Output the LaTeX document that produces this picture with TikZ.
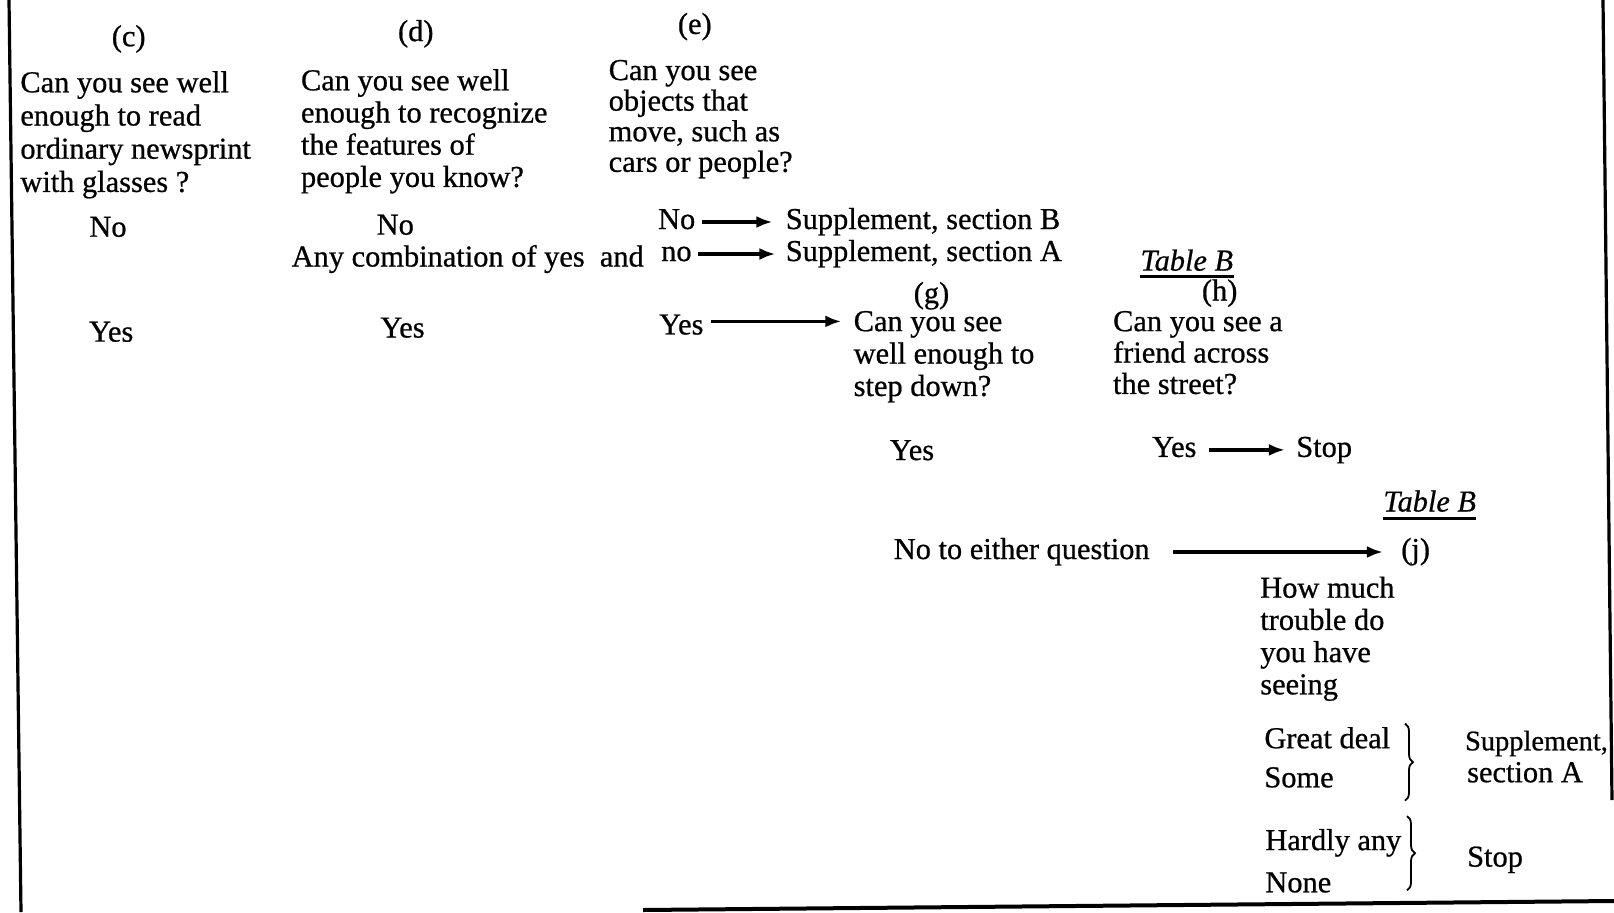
\documentclass[tikz,border=0pt]{standalone}
\usepackage{fontspec}
\setmainfont{Liberation Serif}[
  BoldFont={Liberation Serif},
  BoldItalicFont={Liberation Serif Italic},
  BoldFeatures={FakeBold=0.7},
  BoldItalicFeatures={FakeBold=0.7}]
\usetikzlibrary{arrows.meta,decorations.pathreplacing}
\tikzset{
  word/.style={inner sep=0pt, font=\fontsize{15.2}{16.5}\selectfont\bfseries,
    text height=10.3pt, text depth=3.3pt},
  ques/.style={inner sep=0pt, align=left, anchor=north west,
    font=\fontsize{15.2}{#1}\selectfont\bfseries},
  goto/.style={line width=1.6pt, -{Latex[length=8pt,width=6pt]}},
  frame/.style={line width=1.6pt},
  grp/.style={line width=0.9pt, decorate, decoration={brace, amplitude=4pt}},
  tabhead/.style={word, anchor=base, font=\fontsize{15.2}{16.5}\selectfont\bfseries\itshape},
}
\begin{document}
\begin{tikzpicture}[x=0.5pt, y=-0.5pt]
  \useasboundingbox (0,0) rectangle (1614,912);

  % Frame of the page
  \draw [frame] (9,0) -- (21,912);
  \draw [frame] (1603,0) -- (1612,800);
  \draw [frame, line width=2pt] (643,910) -- (1614,901);

  \begin{scope}[yshift=-1.5pt]
  % Question c
  \node [word, anchor=base] (labc) at (128.7,43.2) {(c)};
  \node [ques=16.6] (qc) at (20,67.8)
    {Can you see well\\enough to read\\ordinary newsprint\\with glasses ?};
  \node [word, anchor=base] (noc) at (108,233.7) {No};
  \node [word, anchor=base] (yesc) at (111.2,338.6) {Yes};

  % Question d
  \node [word, anchor=base] (labd) at (415.8,38.1) {(d)};
  \node [ques=16.1] (qd) at (300.6,65.8)
    {Can you see well\\enough to recognize\\the features of\\people you know?};
  \node [word, anchor=base] (nod) at (395.3,231.6) {No};
  \node [word, anchor=base west] (anyc) at (291.3,263.5) {Any combination of yes~ and};
  \node [word, anchor=base] (yesd) at (402.5,334.5) {Yes};

  % Question e
  \node [word, anchor=base] (labe) at (694.8,30.9) {(e)};
  \node [ques=15.3] (qe) at (608.3,56.5)
    {Can you see\\objects that\\move, such as\\cars or people?};
  \node [word, anchor=base west] (noe) at (657.7,226) {No};
  \node [word, anchor=base west] (supb) at (785.4,226) {Supplement, section B};
  \node [word, anchor=base west] (noany) at (660.8,258) {no};
  \node [word, anchor=base west] (supa) at (785.4,258) {Supplement, section A};
  \node [word, anchor=base west] (yese) at (658.8,331.4) {Yes};
  \draw [goto, shorten <=3pt, shorten >=6.5pt] (noe) -- (supb);
  \draw [goto, shorten <=3pt, shorten >=5pt] (noany) -- (supa);

  % Question g
  \node [word, anchor=base] (labg) at (931.5,300) {(g)};
  \node [ques=16.2] (qg) at (853.3,307.6)
    {Can you see\\well enough to\\step down?};
  \node [word, anchor=base] (yesg) at (912,457) {Yes};
  \draw [goto, shorten <=3.5pt, shorten >=6pt] ([yshift=3pt]yese.east) -- ([yshift=3pt]yese.east -| qg.west);

  % Question h, Table B
  \node [tabhead] (tabb) at (1186.8,267.6) {Table B};
  \draw [line width=1.2pt] ([yshift=-3pt]tabb.base west) -- ([yshift=-3pt]tabb.base east);
  \node [word, anchor=base] (labh) at (1219.7,297.5) {(h)};
  \node [ques=15.7] (qh) at (1112.7,307.6)
    {Can you see a\\friend across\\the street?};
  \node [word, anchor=base west] (yesh) at (1151.8,453.9) {Yes};
  \node [word, anchor=base west] (stoph) at (1295.9,453.9) {Stop};
  \draw [goto, shorten <=6pt, shorten >=5.5pt] (yesh) -- (stoph);

  % Question j, Table B
  \node [tabhead] (tabbj) at (1429.7,508.5) {Table B};
  \draw [line width=1.2pt] ([yshift=-3.5pt]tabbj.base west) -- ([yshift=-3.5pt]tabbj.base east);
  \node [word, anchor=base west] (noeither) at (893.4,556) {No to either question};
  \node [word, anchor=base west] (labj) at (1400.9,556) {(j)};
  \draw [goto, shorten <=11.5pt, shorten >=9pt] (noeither) -- (labj);
  \node [ques=16.1] (qj) at (1259.9,573.2)
    {How much\\trouble do\\you have\\seeing};

  % Answers to j
  \node [word, anchor=base west] (great) at (1264,745.2) {Great deal};
  \node [word, anchor=base west] (some) at (1264,784.3) {Some};
  \node [word, anchor=base west] (hardly) at (1265,847.1) {Hardly any};
  \node [word, anchor=base west] (none) at (1265,889.3) {None};
  \draw [grp] (1405,720.5) -- (1405,797.7);
  \draw [grp] (1407,813.1) -- (1407,887.3);
  \node [word, anchor=base west, font=\fontsize{14.2}{16}\selectfont\bfseries] (supj) at (1464.7,747.3) {Supplement,};
  \node [word, anchor=base west] (secj) at (1466.8,779.2) {section A};
  \node [word, anchor=base west] (stopj) at (1466.8,863.6) {Stop};
  \end{scope}
\end{tikzpicture}
\end{document}
